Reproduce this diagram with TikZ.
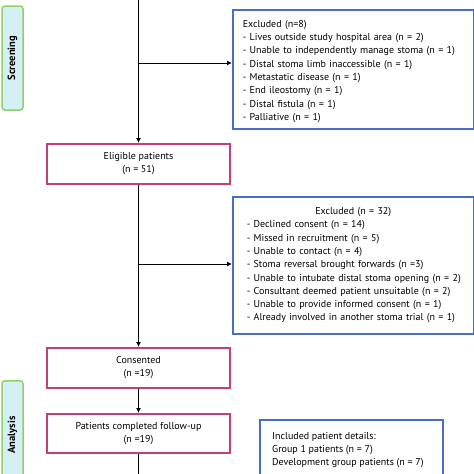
\documentclass[tikz,border=0pt]{standalone}
\usepackage{fontspec}
\setmainfont{PT Sans}
\usetikzlibrary{arrows.meta}
\begin{document}
\begin{tikzpicture}[x=1pt,y=-1pt,
  txt/.style={font=\fontsize{10}{13.3}\selectfont},
  pinkbox/.style={draw=boxpink,line width=1.5pt,fill=white,minimum width=183pt,minimum height=40pt,align=center,inner sep=0pt,txt},
  bluebox/.style={draw=boxblue,line width=1.5pt,fill=white,align=left,txt},
  phase/.style={draw=phasegreen,line width=1.5pt,fill=phasecyan,rounded corners=3pt,minimum width=21pt,inner sep=0pt},
  phasetxt/.style={rotate=90,font=\fontsize{10.5}{12}\selectfont\bfseries},
  flow/.style={line width=1pt,-{Latex[length=5pt,width=5pt]}}]
\definecolor{boxpink}{RGB}{196,62,124}
\definecolor{boxblue}{RGB}{72,110,200}
\definecolor{phasegreen}{RGB}{140,210,100}
\definecolor{phasecyan}{RGB}{212,240,244}
\useasboundingbox (0,0) rectangle (474,474);
% phase labels
\node[phase,minimum height=104pt] (screen) at (12.5,58) {};
\node[phasetxt] (screentxt) at (screen.center) {Screening};
\node[phase,minimum height=104pt,anchor=north] (analysis) at (12.5,380) {};
\node[phasetxt] (analysistxt) at (12.5,435) {Analysis};
% main boxes
\node[pinkbox,anchor=north] (elig) at (138.5,143) {Eligible patients\\(n = 51)};
\node[pinkbox,anchor=north] (cons) at (138.5,347) {Consented\\(n =19)};
\node[pinkbox,anchor=north,minimum height=39pt] (comp) at (138.5,413) {Patients completed follow-up\\(n =19)};
% exclusion boxes
\node[bluebox,anchor=north west,text width=221pt,inner xsep=10pt,minimum height=119pt] (ex1) at (232,9) {%
\rule{0pt}{11.5pt}Excluded (n=8)\\
- Lives outside study hospital area (n = 2)\\
- Unable to independently manage stoma (n = 1)\\
- Distal stoma limb inaccessible (n = 1)\\
- Metastatic disease (n = 1)\\
- End ileostomy (n = 1)\\
- Distal fistula (n = 1)\\
- Palliative (n = 1)};
\node[bluebox,anchor=north west,text width=223pt,inner xsep=9pt,minimum height=137pt] (ex2) at (232,196) {%
\centering Excluded (n = 32)\par\raggedright
\hspace*{5pt}- Declined consent (n = 14)\\
\hspace*{5pt}- Missed in recruitment (n = 5)\\
\hspace*{5pt}- Unable to contact (n = 4)\\
\hspace*{5pt}- Stoma reversal brought forwards (n =3)\\
\hspace*{5pt}- Unable to intubate distal stoma opening (n = 2)\\
\hspace*{5pt}- Consultant deemed patient unsuitable (n = 2)\\
\hspace*{5pt}- Unable to provide informed consent (n = 1)\\
\hspace*{5pt}- Already involved in another stoma trial (n = 1)};
\node[bluebox,anchor=north west,minimum width=183pt,minimum height=70pt,inner sep=0pt] (inc) at (259,419) {};
\node[anchor=north west,align=left,inner sep=0pt,txt] (inctxt) at (272,432) {Included patient details:\\Group 1 patients (n = 7)\\Development group patients (n = 7)};
% connectors
\coordinate (top) at (138.5,0);
\coordinate (b1) at (138.5,63);
\coordinate (b2) at (138.5,264);
\coordinate (bottom) at (138.5,480);
\draw[flow] (top) -- (elig.north);
\draw[flow] (b1) -- (b1 -| ex1.west);
\draw[flow] (elig.south) -- (cons.north);
\draw[flow] (b2) -- (b2 -| ex2.west);
\draw[flow] (cons.south) -- (comp.north);
\draw[flow] (comp.south) -- (bottom);
\end{tikzpicture}
\end{document}
